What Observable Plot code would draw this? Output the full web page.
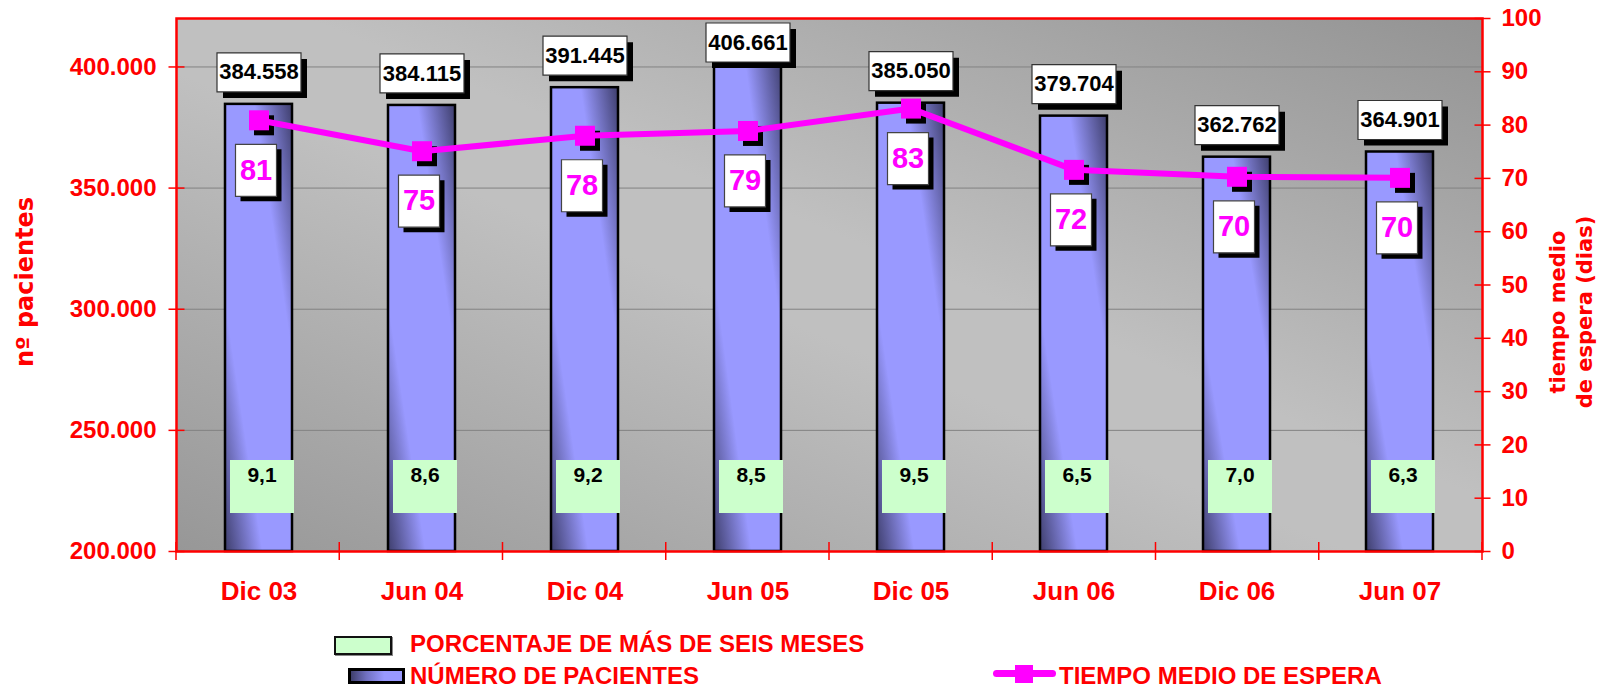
<!DOCTYPE html>
<html>
<head>
<meta charset="utf-8">
<script src="https://cdn.jsdelivr.net/npm/d3@7"></script>
<script src="https://cdn.jsdelivr.net/npm/@observablehq/plot@0.6"></script>
<style>
  body { margin: 0; background: #fff; font-family: "Liberation Sans", Arial, sans-serif; }
  #wrap { position: relative; width: 1603px; height: 690px; overflow: hidden; }
  .lg { position: absolute; }
  .lgtext { position: absolute; color: #FF0000; font-weight: bold; font-size: 24px; line-height: 24px; white-space: nowrap; }
</style>
</head>
<body>
<div id="wrap"></div>
<script>
// ---------- data ----------
const periodos = ["Dic 03", "Jun 04", "Dic 04", "Jun 05", "Dic 05", "Jun 06", "Dic 06", "Jun 07"];
const pacientes = [384558, 384115, 391445, 406661, 385050, 379704, 362762, 364901];
const tiempoMedio = [80.9, 75.1, 78.0, 78.9, 83.1, 71.6, 70.3, 70.1];
const porcentajeSeisMeses = [9.1, 8.6, 9.2, 8.5, 9.5, 6.5, 7.0, 6.3];
const leftTicks = [200000, 250000, 300000, 350000, 400000];
const rightTicks = [0, 10, 20, 30, 40, 50, 60, 70, 80, 90, 100];
const leftDomain = [200000, 420000];
const rightDomain = [0, 100];
const serieNames = ["PORCENTAJE DE MÁS DE SEIS MESES", "NÚMERO DE PACIENTES", "TIEMPO MEDIO DE ESPERA"];
const leftTitle = "nº pacientes";
const rightTitle = "tiempo medio\nde espera (dias)";

// ---------- helpers ----------
const loc = d3.formatLocale({decimal: ",", thousands: ".", grouping: [3], currency: ["", "€"]});
const fmtInt = loc.format(",d");
const fmtPct = loc.format(",.1f");
const fmtDays = loc.format(".0f");
const toLeft = t => leftDomain[0] + (t - rightDomain[0]) / (rightDomain[1] - rightDomain[0]) * (leftDomain[1] - leftDomain[0]);
const fromLeft = v => rightDomain[0] + (v - leftDomain[0]) / (leftDomain[1] - leftDomain[0]) * (rightDomain[1] - rightDomain[0]);

const rows = periodos.map((p, i) => ({periodo: p, pacientes: pacientes[i], tiempo: tiempoMedio[i], pct: porcentajeSeisMeses[i]}));

// label of the bar sits ~32px above its top, but never above the plot ceiling
const labelLift = (leftDomain[1] - leftDomain[0]) * 0.06;
const labelCeil = leftDomain[1] - (leftDomain[1] - leftDomain[0]) * 0.045;
const barLabelY = d => Math.min(d.pacientes + labelLift, labelCeil);

const rectSym = (w, h) => ({draw(ctx) { ctx.rect(-w / 2, -h / 2, w, h); }});
const hLine = len => ({draw(ctx) { ctx.moveTo(-len / 2, 0); ctx.lineTo(len / 2, 0); }});

const RED = "#FF0000", MAG = "#FF00FF";
const bold = {fontWeight: "bold"};

const chart = Plot.plot({
  width: 1603,
  height: 615,
  marginLeft: 176,
  marginRight: 121,
  marginTop: 18,
  marginBottom: 64,
  style: {fontFamily: "'Liberation Sans', Arial, sans-serif", background: "transparent", overflow: "visible"},
  x: {domain: periodos, paddingInner: 0.59, paddingOuter: 0.295},
  y: {domain: leftDomain},
  marks: [
    Plot.frame({fill: "url(#bgGrad)"}),
    Plot.ruleY(leftTicks.slice(1), {stroke: "#828282", strokeWidth: 1}),
    // bars
    Plot.barY(rows, {x: "periodo", y1: leftDomain[0], y2: "pacientes", fill: "url(#barGrad)", stroke: "#000", strokeWidth: 2.5}),
    // bar value labels
    Plot.dot(rows, {x: "periodo", y: barLabelY, symbol: rectSym(84, 39), fill: "#000", stroke: "none", dx: 6, dy: 6}),
    Plot.dot(rows, {x: "periodo", y: barLabelY, symbol: rectSym(84, 39), fill: "#fff", stroke: "#333", strokeWidth: 1.2}),
    Plot.text(rows, {x: "periodo", y: barLabelY, text: d => fmtInt(d.pacientes), fontSize: 22, ...bold, fill: "#000"}),
    // percentage boxes
    Plot.dot(rows, {x: "periodo", frameAnchor: "bottom", dy: -65, dx: 3, symbol: rectSym(64, 53), fill: "#CCFFCC", stroke: "none"}),
    Plot.text(rows, {x: "periodo", frameAnchor: "bottom", lineAnchor: "middle", dy: -76, dx: 3, text: d => fmtPct(d.pct), fontSize: 21, ...bold, fill: "#000"}),
    // waiting time line
    Plot.dot(rows, {x: "periodo", y: d => toLeft(d.tiempo), symbol: rectSym(20, 20), fill: "#000", stroke: "none", dx: 5, dy: 5}),
    Plot.line(rows, {x: "periodo", y: d => toLeft(d.tiempo), stroke: MAG, strokeWidth: 6}),
    Plot.dot(rows, {x: "periodo", y: d => toLeft(d.tiempo), symbol: rectSym(20, 20), fill: MAG, stroke: "none"}),
    // waiting time labels
    Plot.dot(rows, {x: "periodo", y: d => toLeft(d.tiempo), dx: 2, dy: 55, symbol: rectSym(41, 52), fill: "#000", stroke: "none"}),
    Plot.dot(rows, {x: "periodo", y: d => toLeft(d.tiempo), dx: -3, dy: 50, symbol: rectSym(41, 52), fill: "#fff", stroke: "#444", strokeWidth: 1.2}),
    Plot.text(rows, {x: "periodo", y: d => toLeft(d.tiempo), dx: -3, dy: 50, text: d => fmtDays(d.tiempo), fontSize: 29, ...bold, fill: MAG}),
    // axes
    Plot.axisY(leftTicks, {anchor: "left", tickSize: 0, tickPadding: 20, tickFormat: fmtInt, label: null, fontSize: 24, ...bold, color: RED}),
    Plot.axisY(rightTicks.map(toLeft), {anchor: "right", tickSize: 0, tickPadding: 19, tickFormat: v => fmtDays(fromLeft(v)), label: null, fontSize: 24, ...bold, color: RED}),
    Plot.axisX({tickSize: 0, tickPadding: 30, label: null, fontSize: 26, ...bold, color: RED}),
    // crossing tick marks
    Plot.dot(leftTicks, {y: d => d, frameAnchor: "left", symbol: hLine(16), stroke: RED, strokeWidth: 1.5, fill: "none"}),
    Plot.dot(rightTicks, {y: d => toLeft(d), frameAnchor: "right", symbol: hLine(16), stroke: RED, strokeWidth: 1.5, fill: "none"}),
    Plot.dot(periodos, {x: d => d, frameAnchor: "bottom", render: (I, scales, values, dims) => {
      const left = dims.marginLeft, right = dims.width - dims.marginRight;
      const yb = dims.height - dims.marginBottom;
      const step = (right - left) / periodos.length;
      const bounds = d3.range(periodos.length + 1).map(k => left + k * step);
      const g = d3.create("svg:g");
      g.selectAll("line").data(bounds).join("line")
        .attr("x1", d => d).attr("x2", d => d).attr("y1", yb - 9).attr("y2", yb + 9)
        .attr("stroke", RED).attr("stroke-width", 1.5);
      return g.node();
    }}),
    Plot.frame({stroke: RED, strokeWidth: 2.5}),
    // axis titles
    Plot.text([leftTitle], {text: d => d, frameAnchor: "left", textAnchor: "middle", lineAnchor: "middle", dx: -151, dy: -3, rotate: -90, fontSize: 24, ...bold, fill: RED, fontFamily: "'DejaVu Sans', sans-serif"}),
    Plot.text([rightTitle], {text: d => d, frameAnchor: "right", textAnchor: "middle", lineAnchor: "middle", dx: 87, dy: 27, rotate: -90, fontSize: 21, lineHeight: 1.3, ...bold, fill: RED, fontFamily: "'DejaVu Sans', sans-serif"})
  ]
});

// gradients
const svg = d3.select(chart);
const defs = svg.insert("defs", ":first-child");
const bg = defs.append("linearGradient").attr("id", "bgGrad").attr("x1", 0).attr("y1", 1).attr("x2", 1).attr("y2", 0);
[[0, "#979797"], [0.45, "#C0C0C0"], [0.55, "#C0C0C0"], [1, "#939393"]].forEach(([o, c]) => bg.append("stop").attr("offset", o).attr("stop-color", c));
const bgr = defs.append("linearGradient").attr("id", "barGrad").attr("x1", 0).attr("y1", 1).attr("x2", 1).attr("y2", 0);
[[0, "#3E3E6C"], [0.28, "#9999FF"], [0.72, "#9999FF"], [1, "#3E3E6C"]].forEach(([o, c]) => bgr.append("stop").attr("offset", o).attr("stop-color", c));

const wrap = document.getElementById("wrap");
wrap.appendChild(chart);

// legend (HTML, below the svg)
const legendHTML = `
  <div class="lg" style="left:334px;top:636px;width:58px;height:19px;box-sizing:border-box;border:2px solid #111;background:#CCFFCC;box-shadow:1px 1px 0 #888"></div>
  <div class="lgtext" style="left:410px;top:632px">${serieNames[0]}</div>
  <div class="lg" style="left:348px;top:668px;width:57px;height:16px;box-sizing:border-box;border:3px solid #000;background:linear-gradient(90deg,#3E3E6C 0%,#7070C0 30%,#9999FF 65%,#9999FF 100%)"></div>
  <div class="lgtext" style="left:410px;top:664px">${serieNames[1]}</div>
  <div class="lg" style="left:993px;top:670px;width:63px;height:7px;border-radius:4px;background:${MAG}"></div>
  <div class="lg" style="left:1015px;top:665px;width:18px;height:18px;background:${MAG}"></div>
  <div class="lgtext" style="left:1059px;top:664px">${serieNames[2]}</div>
`;
const lg = document.createElement("div");
lg.innerHTML = legendHTML;
wrap.appendChild(lg);
</script>
</body>
</html>
